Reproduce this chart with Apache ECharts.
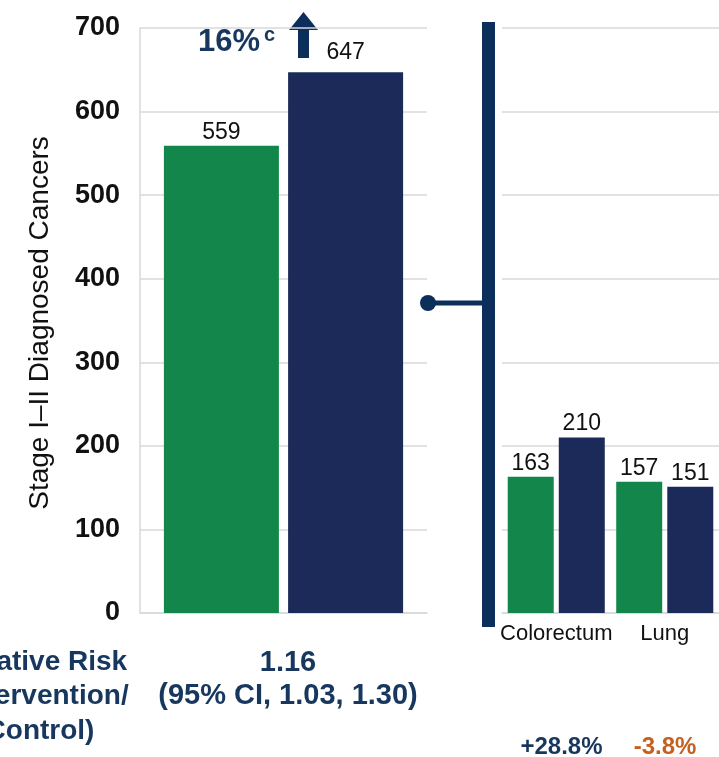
<!DOCTYPE html>
<html>
<head>
<meta charset="utf-8">
<script src="https://cdn.jsdelivr.net/npm/echarts@6/dist/echarts.min.js"></script>
<style>
  html, body { margin: 0; padding: 0; background: #ffffff; }
  #chart { width: 719px; height: 757px; }
</style>
</head>
<body>
<div id="chart"></div>
<script>
// Stage I–II diagnosed cancers: overall and by site
const overallCategories = ['Overall'];
const overallControl = [559];
const overallIntervention = [647];

const siteCategories = ['Colorectum', 'Lung'];
const siteControl = [163, 157];
const siteIntervention = [210, 151];
const siteChange = ['+28.8%', '-3.8%'];

const yTicks = { min: 0, max: 700, interval: 100 };

const FONT = '"Liberation Sans", Arial, sans-serif';
const GREEN = '#12864b';
const NAVY_BAR = '#1b2a58';
const NAVY_DARK = '#0b2e5b';
const NAVY_TEXT = '#17375e';
const ORANGE = '#c5601e';
const GRID_GREY = '#d9d9d9';

const chart = echarts.init(document.getElementById('chart'), null, { renderer: 'canvas' });

const valueLabel = (dist) => ({
  show: true,
  position: 'top',
  distance: dist,
  fontFamily: FONT,
  fontSize: 23,
  color: '#111111'
});

const option = {
  animation: false,
  backgroundColor: '#ffffff',
  grid: [
    { left: 140, right: 292, top: 28, bottom: 144 },
    { left: 502, right: 0, top: 28, bottom: 144 }
  ],
  xAxis: [
    {
      gridIndex: 0, type: 'category', data: overallCategories,
      axisLine: { show: true, lineStyle: { color: GRID_GREY, width: 1.5 } },
      axisTick: { show: false }, axisLabel: { show: false }
    },
    {
      gridIndex: 1, type: 'category', data: siteCategories,
      axisLine: { show: true, lineStyle: { color: GRID_GREY, width: 1.5 } },
      axisTick: { show: false },
      axisLabel: { interval: 0, fontFamily: FONT, fontSize: 22, color: '#111111', margin: 10 }
    }
  ],
  yAxis: [
    {
      gridIndex: 0, type: 'value', min: yTicks.min, max: yTicks.max, interval: yTicks.interval,
      axisLine: { show: true, lineStyle: { color: GRID_GREY, width: 1.5 } },
      axisTick: { show: false },
      axisLabel: { fontFamily: FONT, fontSize: 27, fontWeight: 'bold', color: '#111111', margin: 20 },
      splitLine: { lineStyle: { color: GRID_GREY, width: 1.5 } }
    },
    {
      gridIndex: 1, type: 'value', min: yTicks.min, max: yTicks.max, interval: yTicks.interval,
      axisLine: { show: false }, axisTick: { show: false }, axisLabel: { show: false },
      splitLine: { lineStyle: { color: GRID_GREY, width: 1.5 } }
    }
  ],
  series: [
    {
      name: 'Control', type: 'bar', xAxisIndex: 0, yAxisIndex: 0,
      data: overallControl, barWidth: 115, barGap: '8%',
      itemStyle: { color: GREEN }, label: valueLabel(2)
    },
    {
      name: 'Intervention', type: 'bar', xAxisIndex: 0, yAxisIndex: 0,
      data: overallIntervention, barWidth: 115, barGap: '8%',
      itemStyle: { color: NAVY_BAR }, label: valueLabel(8)
    },
    {
      name: 'Control', type: 'bar', xAxisIndex: 1, yAxisIndex: 1,
      data: siteControl, barWidth: 46, barGap: '11%',
      itemStyle: { color: GREEN }, label: valueLabel(2)
    },
    {
      name: 'Intervention', type: 'bar', xAxisIndex: 1, yAxisIndex: 1,
      data: siteIntervention, barWidth: 46, barGap: '11%',
      itemStyle: { color: NAVY_BAR }, label: valueLabel(2)
    }
  ],
  graphic: [
    // y-axis title
    {
      type: 'text', x: 40, y: 323, rotation: Math.PI / 2,
      style: {
        text: 'Stage I\u2013II Diagnosed Cancers', fontFamily: FONT, fontSize: 28,
        fill: '#111111', align: 'center', verticalAlign: 'middle'
      }
    },
    // bracket linking the overall bars to the per-site breakdown
    { type: 'rect', shape: { x: 482, y: 22, width: 13, height: 605 }, style: { fill: NAVY_DARK } },
    { type: 'line', shape: { x1: 428, y1: 303, x2: 484, y2: 303 }, style: { stroke: NAVY_DARK, lineWidth: 5 } },
    { type: 'circle', shape: { cx: 428, cy: 303, r: 8 }, style: { fill: NAVY_DARK } },
    // increase callout
    {
      type: 'text', x: 198, y: 42,
      style: { text: '16%', fontFamily: FONT, fontSize: 31, fontWeight: 'bold', fill: NAVY_TEXT, align: 'left', verticalAlign: 'middle' }
    },
    {
      type: 'text', x: 264, y: 35,
      style: { text: 'c', fontFamily: FONT, fontSize: 20, fontWeight: 'bold', fill: NAVY_TEXT, align: 'left', verticalAlign: 'middle' }
    },
    {
      type: 'polygon',
      shape: { points: [[303.5, 12], [318, 30], [309, 30], [309, 58], [298, 58], [298, 30], [289, 30]] },
      style: { fill: NAVY_DARK }
    },
    // relative risk row
    {
      type: 'text', x: 40, y: 645,
      style: {
        text: 'Relative Risk\n(Intervention/\nControl)', fontFamily: FONT, fontSize: 28, fontWeight: 'bold',
        lineHeight: 34.5, fill: NAVY_TEXT, align: 'center', verticalAlign: 'top'
      }
    },
    {
      type: 'text', x: 288, y: 646,
      style: {
        text: '1.16\n(95% CI, 1.03, 1.30)', fontFamily: FONT, fontSize: 29, fontWeight: 'bold',
        lineHeight: 33.5, fill: NAVY_TEXT, align: 'center', verticalAlign: 'top'
      }
    },
    // per-site change
    {
      type: 'text', x: 561.5, y: 747,
      style: { text: siteChange[0], fontFamily: FONT, fontSize: 24, fontWeight: 'bold', fill: NAVY_TEXT, align: 'center', verticalAlign: 'middle' }
    },
    {
      type: 'text', x: 665, y: 747,
      style: { text: siteChange[1], fontFamily: FONT, fontSize: 24, fontWeight: 'bold', fill: ORANGE, align: 'center', verticalAlign: 'middle' }
    }
  ]
};

chart.setOption(option);
</script>
</body>
</html>
